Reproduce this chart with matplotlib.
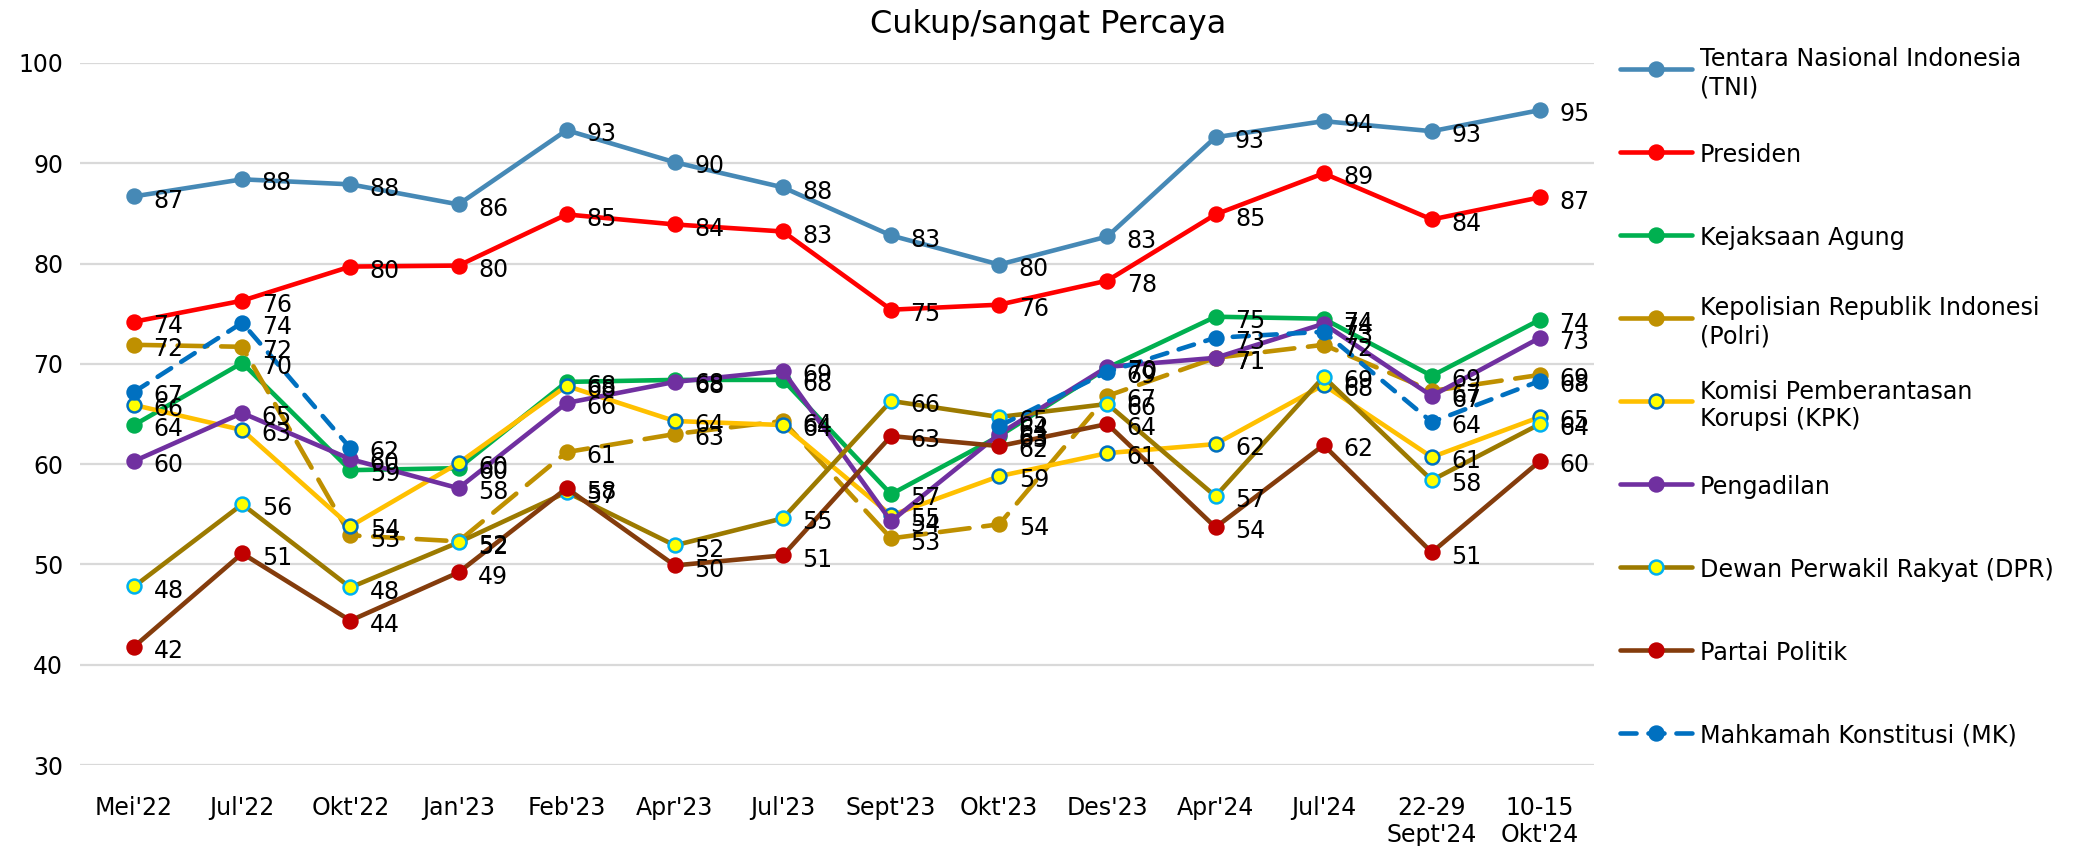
import numpy as np
import matplotlib.pyplot as plt
from matplotlib.lines import Line2D

plt.rcParams['font.family'] = ['DejaVu Sans']

# ---- data ----
categories = ["Mei'22", "Jul'22", "Okt'22", "Jan'23", "Feb'23", "Apr'23", "Jul'23",
              "Sept'23", "Okt'23", "Des'23", "Apr'24", "Jul'24",
              "22-29\nSept'24", "10-15\nOkt'24"]
nan = np.nan
tni        = [86.7, 88.4, 87.9, 85.9, 93.3, 90.1, 87.6, 82.8, 79.9, 82.7, 92.6, 94.2, 93.2, 95.3]
presiden   = [74.2, 76.3, 79.7, 79.8, 84.9, 83.9, 83.2, 75.4, 75.9, 78.3, 84.9, 89.0, 84.4, 86.6]
kejaksaan  = [63.9, 70.1, 59.4, 59.6, 68.2, 68.4, 68.4, 57.0, 62.8, 69.6, 74.7, 74.5, 68.8, 74.4]
polri      = [71.9, 71.7, 52.9, 52.3, 61.2, 63.0, 64.3, 52.6, 54.0, 66.8, 70.6, 71.9, 67.3, 68.9]
kpk        = [65.9, 63.4, 53.8, 60.1, 67.8, 64.3, 63.9, 54.9, 58.8, 61.1, 62.0, 67.9, 60.7, 64.7]
pengadilan = [60.3, 65.1, 60.5, 57.6, 66.1, 68.2, 69.3, 54.3, 63.0, 69.7, 70.6, 74.0, 66.8, 72.6]
dpr        = [47.8, 56.0, 47.7, 52.2, 57.2, 51.9, 54.6, 66.3, 64.7, 66.0, 56.8, 68.7, 58.4, 64.0]
partai     = [41.8, 51.1, 44.4, 49.2, 57.6, 49.9, 50.9, 62.8, 61.8, 64.0, 53.7, 61.9, 51.2, 60.3]
mk         = [67.2, 74.1, 61.6, nan, nan, nan, nan, nan, 63.8, 69.2, 72.6, 73.2, 64.2, 68.3]

names = ["Tentara Nasional Indonesia\n(TNI)", "Presiden", "Kejaksaan Agung",
         "Kepolisian Republik Indonesi\n(Polri)", "Komisi Pemberantasan\nKorupsi (KPK)",
         "Pengadilan", "Dewan Perwakil Rakyat (DPR)", "Partai Politik",
         "Mahkamah Konstitusi (MK)"]
values = [tni, presiden, kejaksaan, polri, kpk, pengadilan, dpr, partai, mk]

# styles: line colour, marker face, marker edge, dash pattern
styles = [
    dict(color='#4689B6', mfc='#4689B6', mec='#4689B6'),
    dict(color='#FF0000', mfc='#FF0000', mec='#FF0000'),
    dict(color='#00B050', mfc='#00B050', mec='#00B050'),
    dict(color='#BF9000', mfc='#BF9000', mec='#BF9000', dashes=(6.5, 3.0)),
    dict(color='#FFC000', mfc='#FFFF00', mec='#0070C0'),
    dict(color='#7030A0', mfc='#7030A0', mec='#7030A0'),
    dict(color='#9C7A00', mfc='#FFFF00', mec='#00B0F0'),
    dict(color='#843C0C', mfc='#C00000', mec='#C00000'),
    dict(color='#0070C0', mfc='#0070C0', mec='#0070C0', dashes=(3.5, 2.6)),
]

W, H = 2097, 846
fig = plt.figure(figsize=(W / 100, H / 100), dpi=100)
ax = fig.add_axes([80 / W, 1 - 765 / H, (1594 - 80) / W, (765 - 63) / H])

x = np.arange(len(categories))
for vals, st in zip(values, styles):
    ax.plot(x, vals, lw=3.3, marker='o', ms=10, mew=1.8,
            solid_capstyle='round', dash_capstyle='round', **st)
    for xi, v in zip(x, vals):
        if np.isnan(v):
            continue
        ax.annotate(f"{v:.0f}", (xi, v), xytext=(14, -3), textcoords='offset points',
                    ha='left', va='center', fontsize=17, zorder=10)

ax.set_xlim(-0.5, len(categories) - 0.5)
ax.set_ylim(30, 100)
ax.set_yticks(range(30, 101, 10))
ax.set_xticks(x)
ax.set_xticklabels(categories, fontsize=17)
ax.tick_params(axis='y', labelsize=17, length=0, pad=12)
ax.tick_params(axis='x', length=0, pad=22)
ax.grid(axis='y', color='#D9D9D9', lw=1.6)
ax.set_axisbelow(True)
for s in ax.spines.values():
    s.set_visible(False)

fig.text(0.5, 1 - 24 / H, "Cukup/sangat Percaya", ha='center', va='center', fontsize=23)

# legend drawn by hand so each entry keeps Excel's spacing
leg_top = 69
leg_step = 83
for i, (name, st) in enumerate(zip(names, styles)):
    y = 1 - (leg_top + i * leg_step) / H
    h = Line2D([1620 / W, 1656 / W, 1692 / W], [y, y, y], transform=fig.transFigure,
               lw=3.3, marker='o', ms=10, mew=1.8, markevery=[1],
               solid_capstyle='round', dash_capstyle='round', **st)
    fig.add_artist(h)
    fig.text(1700 / W, y, name, ha='left', va='center_baseline', fontsize=17.2)

fig.savefig('out.png', dpi=100)
